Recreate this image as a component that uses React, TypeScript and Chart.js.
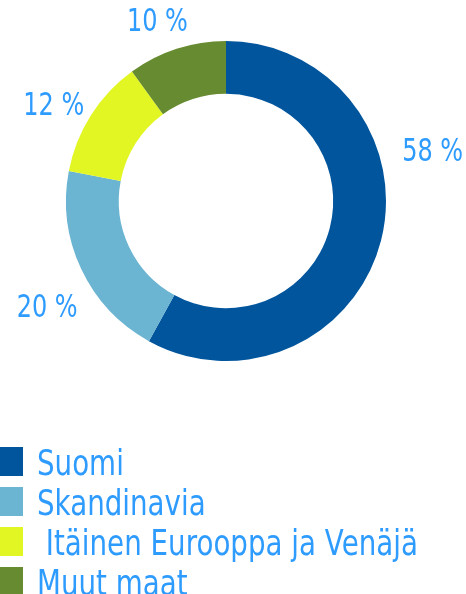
import React, { useEffect, useRef } from "react";
import { Chart, registerables } from "chart.js";

Chart.register(...registerables);

const categories = ["Suomi", "Skandinavia", " Itäinen Eurooppa ja Venäjä", "Muut maat"];
const shares = [58, 20, 12, 10];
const sliceColors = ["#01559d", "#6bb4d2", "#e2f624", "#678b30"];

const TEXT_COLOR = "#2e9bff";
const FONT = "'DejaVu Sans', sans-serif";

const labelsPlugin = {
  id: "sliceLabels",
  afterDatasetsDraw(chart: any, _args: any, opts: any) {
    const ctx = chart.ctx;
    const meta = chart.getDatasetMeta(0);
    const data = chart.data.datasets[0].data;
    ctx.save();
    ctx.fillStyle = TEXT_COLOR;
    ctx.font = `${opts.size}px ${FONT}`;
    ctx.textAlign = "center";
    ctx.textBaseline = "alphabetic";
    meta.data.forEach((arc: any, i: number) => {
      const { startAngle, endAngle, outerRadius, x, y } = arc.getProps(
        ["startAngle", "endAngle", "outerRadius", "x", "y"],
        true
      );
      const a = startAngle + (endAngle - startAngle) * opts.fractions[i];
      const r = outerRadius + opts.offsets[i];
      const px = x + Math.cos(a) * r;
      const py = y + Math.sin(a) * r;
      ctx.save();
      ctx.translate(px, py + (opts.size * 0.729) / 2);
      ctx.scale(opts.squeeze, 1);
      ctx.fillText(`${data[i]} %`, 0, 0);
      ctx.restore();
    });
    ctx.restore();
  },
};

const listLegendPlugin = {
  id: "listLegend",
  afterDraw(chart: any, _args: any, opts: any) {
    const ctx = chart.ctx;
    const labels = chart.data.labels;
    const colors = chart.data.datasets[0].backgroundColor;
    ctx.save();
    ctx.font = `${opts.size}px ${FONT}`;
    ctx.textAlign = "left";
    ctx.textBaseline = "alphabetic";
    labels.forEach((label: string, i: number) => {
      const cy = opts.top + i * opts.step;
      ctx.fillStyle = colors[i];
      ctx.fillRect(opts.left, cy - opts.boxH / 2, opts.boxW, opts.boxH);
      ctx.fillStyle = TEXT_COLOR;
      ctx.save();
      ctx.translate(opts.textX, cy + (opts.size * 0.729) / 2);
      ctx.scale(opts.squeeze, 1);
      ctx.fillText(label, 0, 0);
      ctx.restore();
    });
    ctx.restore();
  },
};

export default function App() {
  const ref = useRef<HTMLCanvasElement | null>(null);
  useEffect(() => {
    if (!ref.current) return;
    const chart = new Chart(ref.current, {
      type: "doughnut",
      data: {
        labels: categories,
        datasets: [
          {
            data: shares,
            backgroundColor: sliceColors,
            borderWidth: 0,
          },
        ],
      },
      options: {
        responsive: true,
        maintainAspectRatio: false,
        animation: false,
        cutout: "67%",
        layout: { padding: { top: 41, left: 66, right: 80, bottom: 233 } },
        plugins: {
          legend: { display: false },
          tooltip: { enabled: false },
          sliceLabels: {
            size: 32,
            squeeze: 0.75,
            fractions: [0.364, 0.43, 0.435, 0.425],
            offsets: [53, 47, 38, 34],
          },
          listLegend: {
            size: 36,
            squeeze: 0.77,
            top: 461.5,
            step: 40,
            left: 0,
            boxW: 23,
            boxH: 29,
            textX: 37,
          },
        } as any,
      },
      plugins: [labelsPlugin, listLegendPlugin],
    });
    return () => chart.destroy();
  }, []);
  return (
    <div style={{ position: "absolute", left: 0, top: 0, width: 466, height: 594 }}>
      <canvas ref={ref} />
    </div>
  );
}
